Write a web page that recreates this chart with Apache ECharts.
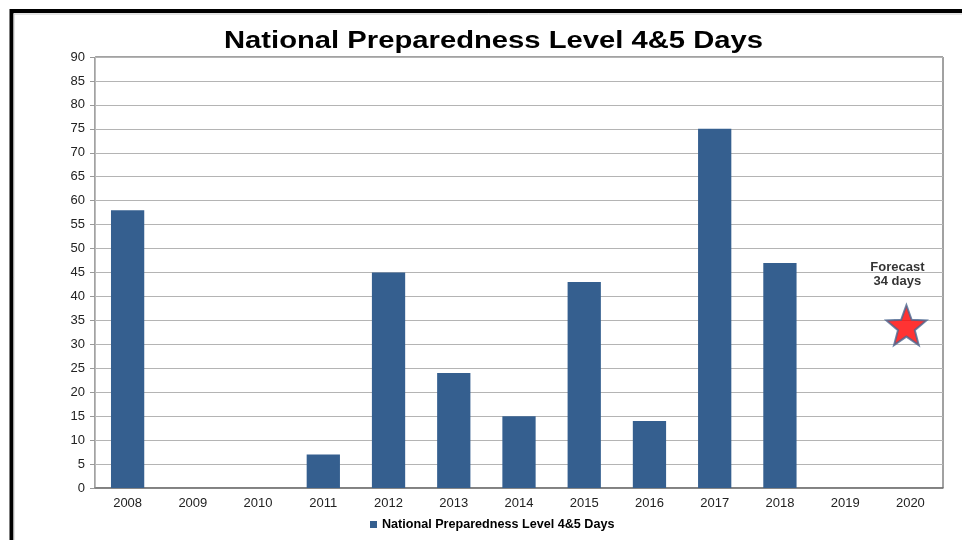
<!DOCTYPE html>
<html><head><meta charset="utf-8">
<script src="https://cdn.jsdelivr.net/npm/echarts@6/dist/echarts.min.js"></script>
<style>html,body{margin:0;padding:0;background:#fff}#c{width:962px;height:540px}</style>
</head><body><div id="c"></div>
<script>
const years = ['2008','2009','2010','2011','2012','2013','2014','2015','2016','2017','2018','2019','2020'];
const days = [58, 0, 0, 7, 45, 24, 15, 43, 14, 75, 47, 0, 0];
const forecast = [null, null, null, null, null, null, null, null, null, null, null, null, 34];
const forecastLabel = 'Forecast\n34 days';
const yTicks = {min: 0, max: 90, step: 5};
const seriesName = 'National Preparedness Level 4&5 Days';
const titleText = 'National Preparedness Level 4&5 Days';

const starPath = 'path://M50 0 L62.5 33 L97.55 34.55 L70 56.5 L79.39 90.45 L50 71 L20.61 90.45 L30 56.5 L2.45 34.55 L37.5 33 Z';
const chart = echarts.init(document.getElementById('c'));
chart.setOption({
  animation: false,
  backgroundColor: '#fff',
  textStyle: {fontFamily: 'Liberation Sans, Arial, sans-serif'},
  graphic: [
    {type: 'rect', shape: {x: 11.5, y: 11, width: 1000, height: 600}, style: {fill: 'none', stroke: '#000', lineWidth: 4}},
    {type: 'rect', shape: {x: 14, y: 14, width: 1000, height: 600}, style: {fill: 'none', stroke: '#c8c8c8', lineWidth: 1}},
    {type: 'text', x: 493.5, y: 30, scaleX: 1.27, z: 10,
     style: {text: titleText, font: 'bold 23px "Liberation Sans", Arial, sans-serif', fill: '#000', textAlign: 'center', textVerticalAlign: 'top'}}
  ],
  legend: {
    data: [seriesName], bottom: 4, left: 365,
    icon: 'rect', itemWidth: 7, itemHeight: 7, itemGap: 3,
    textStyle: {fontSize: 12.6, fontWeight: 'bold', color: '#000'}
  },
  grid: {left: 95, right: 19, top: 57, bottom: 52, show: true, borderColor: '#444', borderWidth: 1},
  xAxis: {
    type: 'category', data: years,
    axisLine: {lineStyle: {color: '#777', width: 1.5}},
    axisTick: {show: false},
    axisLabel: {color: '#222', fontSize: 13, margin: 9},
    splitLine: {show: false}
  },
  yAxis: {
    type: 'value', min: yTicks.min, max: yTicks.max, interval: yTicks.step,
    axisLine: {show: true, lineStyle: {color: '#bbb'}},
    axisTick: {show: true, length: 5, lineStyle: {color: '#999'}},
    axisLabel: {color: '#222', fontSize: 13, margin: 10},
    splitLine: {lineStyle: {color: '#b4b4b4', width: 1}}
  },
  series: [
    {
      name: seriesName, type: 'bar', data: days, barWidth: '51%',
      itemStyle: {color: '#355F8F'}
    },
    {
      name: 'Forecast', type: 'scatter', data: forecast,
      symbol: starPath, symbolSize: [40, 40], symbolOffset: [-4, 0],
      itemStyle: {color: '#ff0000', borderColor: '#4a6690', borderWidth: 2},
      label: {
        show: true, position: 'top', distance: 17, offset: [-9, 1],
        formatter: forecastLabel, fontSize: 13, fontWeight: 'bold', color: '#000', lineHeight: 14
      }
    }
  ]
});
</script></body></html>
